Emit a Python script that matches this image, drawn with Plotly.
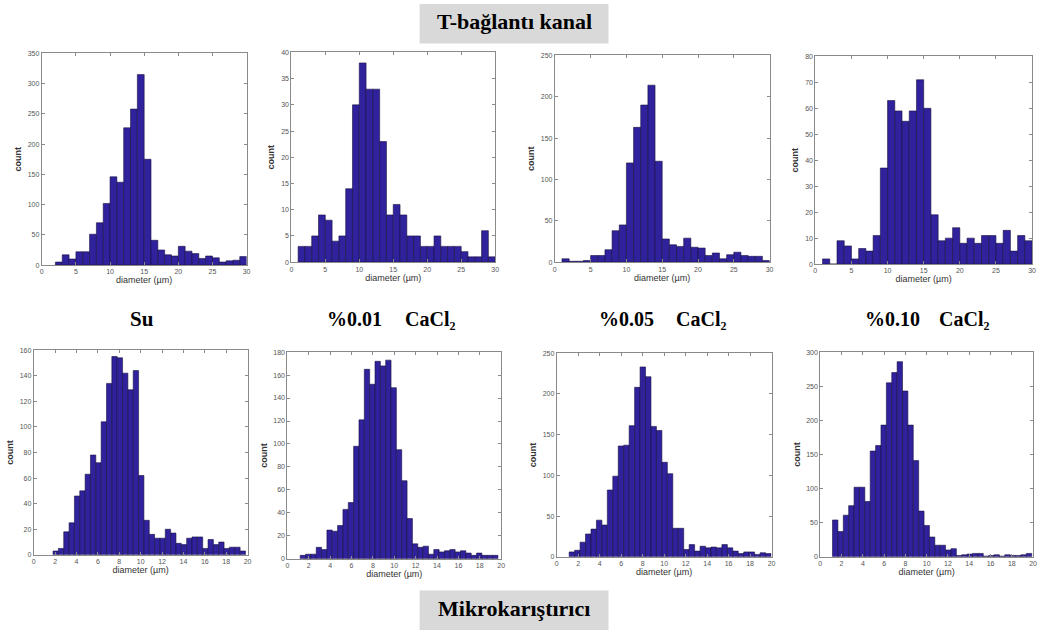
import plotly.graph_objects as go

# ---------------- data ----------------
# Top row (T-bağlantı kanal): bins of width 1 µm
su_top = [5, 17, 10, 22, 22, 51, 70, 102, 146, 137, 227, 258, 315, 175, 41, 25, 17, 15,
          31, 23, 19, 11, 15, 12, 5, 7, 8, 14]
su_top_start, su_top_width = 2.0, 1.0

c001_top = [3, 3, 5, 9, 8, 4, 5, 14, 30, 38, 33, 33, 23, 9, 11, 9, 5, 5, 3, 3, 5, 3, 3, 3,
            2, 1, 1, 6, 1]
c001_top_start, c001_top_width = 1.0, 1.0

c005_top = [4, 1, 1, 2, 8, 8, 15, 38, 45, 120, 163, 190, 214, 122, 28, 21, 19, 29, 18, 17,
            8, 11, 4, 9, 12, 8, 7, 7, 2]
c005_top_start, c005_top_width = 1.0, 1.0

c010_top = [2, 0, 9, 7, 2, 6, 5, 11, 37, 63, 59, 55, 59, 71, 60, 19, 9, 10, 14, 8, 10, 8,
            11, 11, 8, 13, 5, 11, 9]
c010_top_start, c010_top_width = 1.0, 1.0

# Bottom row (Mikrokarıştırıcı): bins of about 0.5 µm
su_bot = [3, 5, 18, 25, 46, 50, 63, 78, 72, 104, 134, 155, 154, 142, 129, 144, 62, 27, 16,
          13, 13, 20, 17, 9, 8, 13, 14, 14, 5, 12, 8, 10, 5, 6, 6, 3]
su_bot_start, su_bot_width = 1.8, 0.5

c001_bot = [3, 4, 4, 10, 8, 25, 24, 29, 43, 49, 98, 121, 165, 152, 172, 168, 173, 149, 95,
            68, 35, 13, 10, 11, 4, 8, 6, 7, 8, 6, 7, 5, 3, 5, 3, 3, 3]
c001_bot_start, c001_bot_width = 1.2, 0.5

c005_bot = [6, 8, 18, 28, 34, 45, 39, 82, 99, 136, 137, 161, 208, 233, 221, 160, 155, 116,
            102, 35, 35, 9, 15, 7, 13, 11, 12, 11, 15, 11, 7, 4, 6, 6, 3, 5, 4]
c005_bot_start, c005_bot_width = 1.15, 0.508

c010_bot = [54, 37, 61, 75, 102, 102, 81, 155, 163, 193, 255, 270, 286, 243, 193, 141, 67,
            46, 29, 17, 17, 10, 12, 2, 3, 4, 5, 5, 1, 2, 3, 1, 3, 2, 2, 3, 5]
c010_bot_start, c010_bot_width = 1.15, 0.506

top_yticks = [list(range(0, 351, 50)), list(range(0, 41, 5)),
              list(range(0, 251, 50)), list(range(0, 81, 10))]
bot_yticks = [list(range(0, 161, 20)), list(range(0, 181, 20)),
              list(range(0, 251, 50)), list(range(0, 301, 50))]
top_xticks = list(range(0, 31, 5))
bot_xticks = list(range(0, 21, 2))

panel_labels = ["Su", "%0.01", "%0.05", "%0.10"]
salt_label = "CaCl₂"
top_title = "T-bağlantı kanal"
bottom_title = "Mikrokarıştırıcı"

# ---------------- layout ----------------
W, H = 1050, 633

def px_dom_x(a, b):
    return [a / W, b / W]

def px_dom_y(top, bottom):
    return [1 - bottom / H, 1 - top / H]

panels = [
    (su_top, su_top_start, su_top_width, top_yticks[0], top_xticks, 30, (40, 246, 50, 264)),
    (c001_top, c001_top_start, c001_top_width, top_yticks[1], top_xticks, 30, (291, 496, 49, 261)),
    (c005_top, c005_top_start, c005_top_width, top_yticks[2], top_xticks, 30, (556, 772, 52, 261)),
    (c010_top, c010_top_start, c010_top_width, top_yticks[3], top_xticks, 30, (818, 1036, 53, 263)),
    (su_bot, su_bot_start, su_bot_width, bot_yticks[0], bot_xticks, 20, (32, 247, 350, 557)),
    (c001_bot, c001_bot_start, c001_bot_width, bot_yticks[1], bot_xticks, 20, (287, 502, 352, 561)),
    (c005_bot, c005_bot_start, c005_bot_width, bot_yticks[2], bot_xticks, 20, (558, 774, 353, 559)),
    (c010_bot, c010_bot_start, c010_bot_width, bot_yticks[3], bot_xticks, 20, (823, 1037, 352, 559)),
]

BAR_COLOR = "#30219c"
AX_COLOR = "#8a8a8a"
TICK_FONT = dict(family="Liberation Sans, Arial", size=7, color="#555555")
LABEL_FONT = dict(family="Liberation Sans, Arial", size=9, color="#333333")

fig = go.Figure()
layout = dict(
    width=W, height=H, margin=dict(l=0, r=0, t=0, b=0),
    paper_bgcolor="white", plot_bgcolor="white", showlegend=False,
)

for i, (vals, start, width, yt, xt, xmax, dom) in enumerate(panels, start=1):
    centers = [start + width * (k + 0.5) for k in range(len(vals))]
    suffix = "" if i == 1 else str(i)
    fig.add_trace(go.Bar(
        x=centers, y=vals, width=[width] * len(vals),
        marker=dict(color=BAR_COLOR, line=dict(color="#1a1240", width=0.6)),
        xaxis="x" + suffix, yaxis="y" + suffix, hoverinfo="skip",
    ))
    x0, x1, y0, y1 = dom
    layout["xaxis" + suffix] = dict(
        domain=px_dom_x(x0, x1), anchor="y" + suffix, range=[0, xmax],
        tickvals=xt, ticks="inside", ticklen=3, tickcolor=AX_COLOR,
        showline=True, linecolor=AX_COLOR, linewidth=1, mirror="ticks",
        showgrid=False, zeroline=False, tickfont=TICK_FONT,
        title=dict(text="diameter (µm)", font=LABEL_FONT, standoff=2),
    )
    layout["yaxis" + suffix] = dict(
        domain=px_dom_y(y0, y1), anchor="x" + suffix, range=[0, yt[-1]],
        tickvals=yt, ticks="inside", ticklen=3, tickcolor=AX_COLOR,
        showline=True, linecolor=AX_COLOR, linewidth=1, mirror="ticks",
        showgrid=False, zeroline=False, tickfont=TICK_FONT,
        title=dict(text="<b>count</b>", font=LABEL_FONT, standoff=4),
    )

fig.update_layout(**layout)

# ---------------- text labels ----------------
SERIF = "Liberation Serif, Times New Roman, serif"
shapes = [
    dict(type="rect", xref="paper", yref="paper",
         x0=420 / W, x1=610 / W, y0=1 - 40 / H, y1=1.0,
         fillcolor="#d9d9d9", line=dict(width=0), layer="below"),
    dict(type="rect", xref="paper", yref="paper",
         x0=420 / W, x1=610 / W, y0=0.0, y1=1 - 593 / H,
         fillcolor="#d9d9d9", line=dict(width=0), layer="below"),
]
fig.update_layout(shapes=shapes)

def add_text(txt, xpx, ypx, size, anchor="center"):
    fig.add_annotation(text="<b>" + txt + "</b>", x=xpx / W, y=1 - ypx / H,
                       xref="paper", yref="paper", showarrow=False,
                       xanchor=anchor, yanchor="middle",
                       font=dict(family=SERIF, size=size, color="black"))

add_text(top_title, 515, 18, 22)
add_text(bottom_title, 515, 611, 22)
add_text(panel_labels[0], 141, 319, 21)
add_text(panel_labels[1], 325, 319, 20, "left")
add_text(salt_label, 403, 319, 20, "left")
add_text(panel_labels[2], 598, 319, 20, "left")
add_text(salt_label, 676, 319, 20, "left")
add_text(panel_labels[3], 866, 319, 20, "left")
add_text(salt_label, 940, 319, 20, "left")

fig.write_html("out.html")
